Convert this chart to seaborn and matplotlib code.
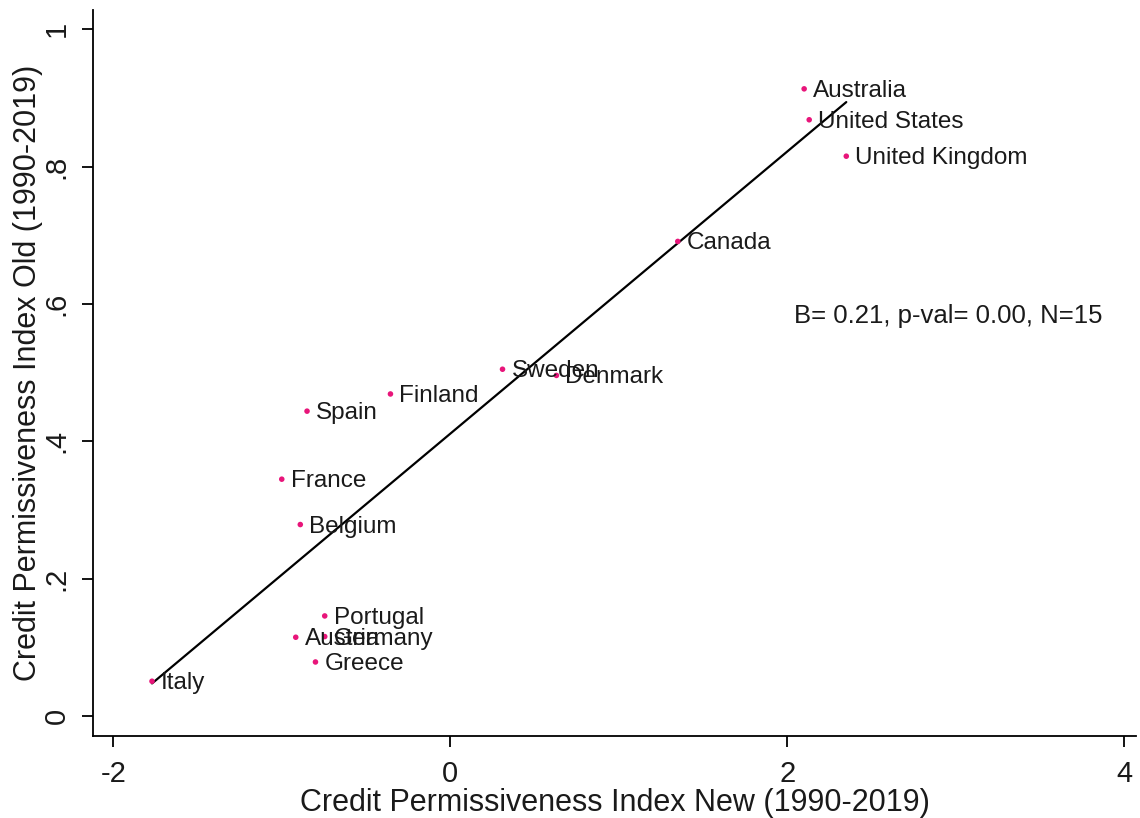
import numpy as np
import pandas as pd
import matplotlib
matplotlib.use("Agg")
import matplotlib.pyplot as plt
import seaborn as sns

# values
countries = ["Australia", "United States", "United Kingdom", "Canada", "Sweden",
             "Denmark", "Finland", "Spain", "France", "Belgium", "Portugal",
             "Germany", "Austria", "Greece", "Italy"]
index_new = [2.10, 2.13, 2.35, 1.35, 0.31, 0.63, -0.355, -0.85, -1.0, -0.89,
             -0.745, -0.745, -0.917, -0.80, -1.77]
index_old = [0.913, 0.868, 0.815, 0.691, 0.505, 0.496, 0.469, 0.444, 0.345,
             0.279, 0.146, 0.116, 0.115, 0.079, 0.051]
x_ticks = [-2, 0, 2, 4]
y_ticks = [0, 0.2, 0.4, 0.6, 0.8, 1]
y_ticklabels = ["0", ".2", ".4", ".6", ".8", "1"]

df = pd.DataFrame({"country": countries, "new": index_new, "old": index_old})

sns.set_style("white")
plt.rcParams["font.family"] = ["Liberation Sans", "DejaVu Sans"]
plt.rcParams["axes.unicode_minus"] = False

fig = plt.figure(figsize=(11.4, 8.18), dpi=100)
ax = fig.add_axes([0.0816, 0.100, 0.915, 0.888])

# fitted line
sns.regplot(data=df, x="new", y="old", ax=ax, scatter=False, ci=None,
            line_kws={"color": "black", "linewidth": 1.6})
# points
sns.scatterplot(data=df, x="new", y="old", ax=ax, color="#e8157a", s=16,
                edgecolor="none", zorder=3)

# country labels to the right of each point
for _, r in df.iterrows():
    ax.annotate(r["country"], (r["new"], r["old"]), xytext=(6.5, -1.5),
                textcoords="offset points", va="center", ha="left",
                fontsize=17.5, color="#1a1a1a")

ax.text(2.04, 0.582, "B= 0.21, p-val= 0.00, N=15", fontsize=18.5,
        va="center", ha="left", color="#1a1a1a")

ax.set_xlim(-2.12, 4.07)
ax.set_ylim(-0.029, 1.028)
ax.set_xticks(x_ticks)
ax.set_xticklabels([str(t) for t in x_ticks])
ax.set_yticks(y_ticks)
ax.set_yticklabels(y_ticklabels, rotation=90, va="center")

ax.set_xlabel("Credit Permissiveness Index New (1990-2019)", fontsize=22,
              color="#1a1a1a", labelpad=0)
ax.set_ylabel("Credit Permissiveness Index Old (1990-2019)", fontsize=22,
              color="#1a1a1a", labelpad=0)

sns.despine(ax=ax)
for side in ["left", "bottom"]:
    ax.spines[side].set_color("black")
    ax.spines[side].set_linewidth(1.3)
ax.tick_params(axis="both", direction="out", length=8, width=1.3,
               color="black", left=True, bottom=True, pad=9,
               labelsize=21, labelcolor="#1a1a1a")
ax.tick_params(axis="y", pad=8)

fig.savefig("out.png", dpi=100, facecolor="white")
